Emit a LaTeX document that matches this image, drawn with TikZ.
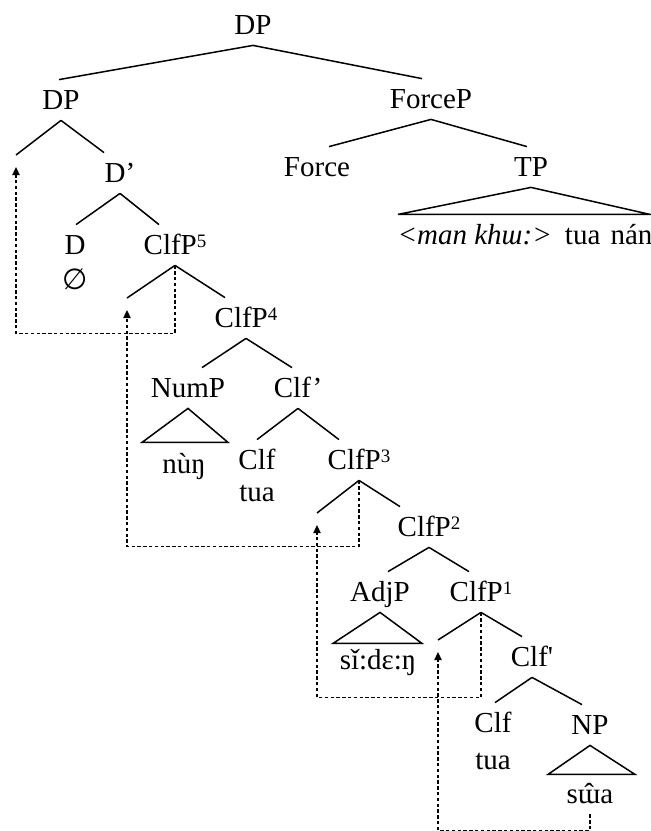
\documentclass[tikz,border=0pt]{standalone}
\usepackage{fontspec}
\setmainfont{Liberation Serif}
\newfontfamily\symfont{DejaVu Sans}
\usetikzlibrary{arrows.meta}

\newcommand{\lvl}[1]{{\fontsize{9.5}{9.5}\selectfont\raisebox{3.4pt}{#1}}}

\tikzset{%
   cat/.style={
    inner sep=0pt,
    text height=9.5pt,
    text depth=0pt,
    minimum height=20pt,
    font=\fontsize{14.5}{17}\selectfont
  },
   branch/.style={line width=0.75pt},
   move/.style={-{Triangle[length=4pt,width=3.6pt]}, line width=0.8pt, dash pattern=on 1.7pt off 1.2pt, shorten >=6pt},
}

\begin{document}
\begin{tikzpicture}[x=0.5pt, y=-0.5pt]
\useasboundingbox (0,0) rectangle (651,831);
%=========================================================================================================
% Category labels
%=========================================================================================================

%Labels of the tree, name/x/y/text
\foreach \n/\x/\y/\t in {root/253/25/DP, dp/61/100/DP, forcep/431/99/ForceP,
    force/317/167/Force, tp/531/167/TP, dbar/120/173/D’, d/75/245/D,
    clfp5/175/245/{ClfP\lvl{5}}, clfp4/246/318/{ClfP\lvl{4}},
    nump/188/388/NumP, clfbarA/298/388/Clf’, clfA/257/460/Clf,
    clfp3/359/460/{ClfP\lvl{3}}, clfp2/429/527/{ClfP\lvl{2}},
    adjp/380/592/AdjP, clfp1/481/592/{ClfP\lvl{1}},
    clfbarB/532/657/{Clf\textquotesingle}, clfB/493/723/Clf, np/590/725/NP}
  \node [cat] (\n) at (\x,\y) {\t};

%Words under the heads and the roofs
\node [cat] (null) at (75,280) {\symfont ∅};
\node [cat] (tuaA) at (257,492) {tua};
\node [cat] (tuaB) at (493,760) {tua};
\node [cat] (numword) at (184,464) {nùŋ};
\node [cat] (adjword) at (378,660) {sǐ:dɛ:ŋ};
\node [cat] (npword) at (590,794) {s\accent"02C6 ɯa};
\node [cat] (tpword) at (525,235) {\textit{<man khɯ:>}\hspace{0.45em}tua\hspace{0.35em}nán};

%Empty positions left by movement
\coordinate (t5) at (16,155);
\coordinate (t4) at (127,298);
\coordinate (t3) at (317,513);
\coordinate (t2) at (438,640);

%=========================================================================================================
% Branches
%=========================================================================================================

%parent/child/shift of the end point
\foreach \p/\c/\s in {root/dp/-2, root/forcep/-9, dp/t5/0, dp/dbar/-16,
    forcep/force/12, forcep/tp/-4, dbar/d/1, dbar/clfp5/-16,
    clfp5/t4/0, clfp5/clfp4/-21, clfp4/nump/14, clfp4/clfbarA/-6,
    clfbarA/clfA/0, clfbarA/clfp3/-20, clfp3/t3/0, clfp3/clfp2/-29,
    clfp2/adjp/8, clfp2/clfp1/-12, clfp1/t2/0, clfp1/clfbarB/-10,
    clfbarB/clfB/2, clfbarB/np/-8}
  \draw [branch] (\p.south) -- ([shift={(\s,0)}]\c.north);

%Roofs
\draw [branch] (tp.south) -- ++(-133,27) -- ++(252,0) -- cycle;
\draw [branch] (nump.south) -- ++(-46,34) -- ++(86,0) -- cycle;
\draw [branch] (adjp.south) -- ++(-47,31) -- ++(89,0) -- cycle;
\draw [branch] (np.south) -- ++(-42,29) -- ++(87,0) -- cycle;

%=========================================================================================================
% Movement arrows
%=========================================================================================================
\draw [move] (clfp5.south) -- ++(0,68) -| (t5);
\draw [move] (clfp3.south) -- ++(0,66) -| (t4);
\draw [move] (clfp1.south) -- ++(0,85) -| (t3);
\draw [move] (npword.south) -- ++(0,16) -| (t2);

\end{tikzpicture}
\end{document}
